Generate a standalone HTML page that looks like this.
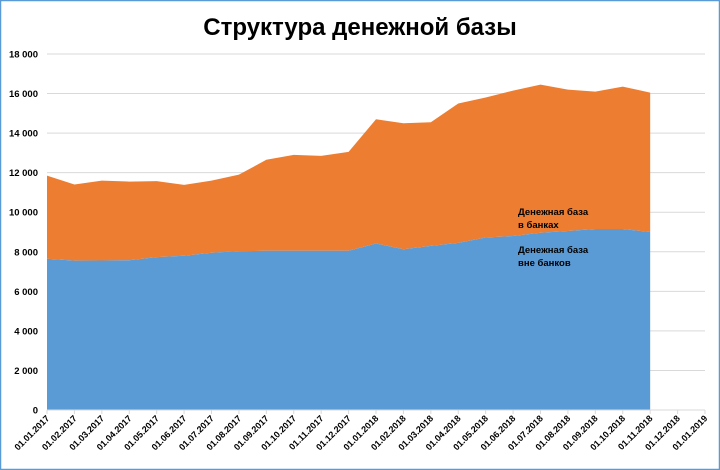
<!DOCTYPE html>
<html><head><meta charset="utf-8"><style>
body{margin:0;background:#fff}
svg{display:block;font-family:"Liberation Sans",sans-serif}
</style></head><body>
<svg width="720" height="470">
<rect x="0.5" y="0.5" width="719" height="469" fill="#fff" stroke="#5b9bd5" stroke-width="1.5"/>
<text x="360" y="35" text-anchor="middle" font-size="24" font-weight="bold" fill="#000">Структура денежной базы</text>
<g id="grid"></g><g id="areas"></g><g id="axes"></g>
<text x="518" y="215" font-size="9.5" font-weight="bold" fill="#000"><tspan x="518">Денежная база</tspan><tspan x="518" dy="13">в банках</tspan></text>
<text x="518" y="253" font-size="9.5" font-weight="bold" fill="#000"><tspan x="518">Денежная база</tspan><tspan x="518" dy="13">вне банков</tspan></text>
</svg>
<script>
const categories=["01.01.2017","01.02.2017","01.03.2017","01.04.2017","01.05.2017","01.06.2017","01.07.2017","01.08.2017","01.09.2017","01.10.2017","01.11.2017","01.12.2017","01.01.2018","01.02.2018","01.03.2018","01.04.2018","01.05.2018","01.06.2018","01.07.2018","01.08.2018","01.09.2018","01.10.2018","01.11.2018","01.12.2018","01.01.2019"];
const outsideBanks=[7650,7550,7560,7570,7730,7800,7950,8030,8050,8050,8050,8050,8420,8130,8300,8450,8720,8800,8960,9050,9150,9150,9000];
const inBanks=[4200,3850,4040,3980,3840,3580,3650,3870,4600,4850,4800,5000,6280,6370,6250,7050,7080,7350,7490,7150,6950,7200,7050];
const yTicks=[0,2000,4000,6000,8000,10000,12000,14000,16000,18000];
const yTickLabels=["0","2 000","4 000","6 000","8 000","10 000","12 000","14 000","16 000","18 000"];
const NS="http://www.w3.org/2000/svg";
const X0=47,X1=705,Y0=410,Ymax=18000,Ytop=54;
const xs=i=>X0+i*(X1-X0)/(categories.length-1);
const ys=v=>Y0-v*(Y0-Ytop)/Ymax;
function mk(t,a,p){const e=document.createElementNS(NS,t);for(const k in a)e.setAttribute(k,a[k]);p.appendChild(e);return e;}
const gridG=document.getElementById('grid'),areasG=document.getElementById('areas'),axesG=document.getElementById('axes');
yTicks.forEach((v,i)=>{
 if(v>0){const l=mk('line',{x1:X0,x2:X1,y1:ys(v),y2:ys(v),stroke:'#d9d9d9','stroke-width':1},gridG);
 
 }
 const t=mk('text',{x:38,y:ys(v)+3.5,'text-anchor':'end','font-size':9.5,'font-weight':'bold',fill:'#000'},axesG);
 t.textContent=yTickLabels[i];
 
 
});
const n=outsideBanks.length;
const topPts=[],basePts=[];
for(let i=0;i<n;i++){topPts.push(xs(i)+','+ys(outsideBanks[i]+inBanks[i]));basePts.push(xs(i)+','+ys(outsideBanks[i]));}
const po=mk('polygon',{points:topPts.join(' ')+' '+basePts.slice().reverse().join(' '),fill:'#ed7d31'},areasG);


const pb=mk('polygon',{points:basePts.join(' ')+' '+xs(n-1)+','+Y0+' '+xs(0)+','+Y0,fill:'#5b9bd5'},areasG);


const ax=mk('line',{x1:X0,x2:X1,y1:Y0,y2:Y0,stroke:'#d9d9d9'},axesG);


categories.forEach((c,i)=>{
 const tk=mk('line',{x1:xs(i),x2:xs(i),y1:Y0,y2:Y0+4,stroke:'#d9d9d9'},axesG);
 
 
 const t=mk('text',{transform:`translate(${xs(i)+3},${Y0+9}) rotate(-45)`,'text-anchor':'end','font-size':9,'font-weight':'bold',fill:'#000'},axesG);
 t.textContent=c;
 
 
});
</script>
</body></html>
